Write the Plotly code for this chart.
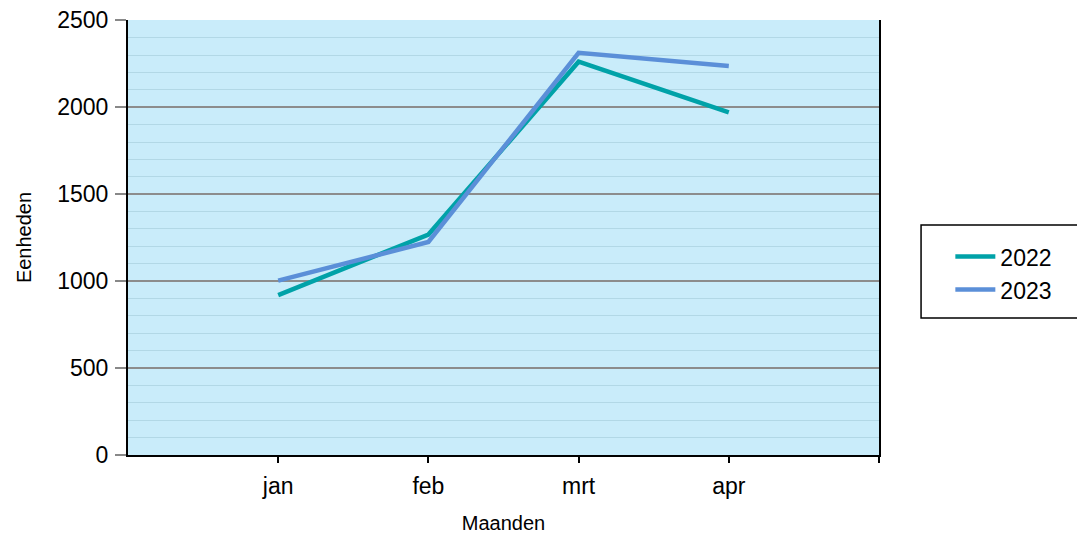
import plotly.graph_objects as go

months = ["jan", "feb", "mrt", "apr"]
series_2022 = [920, 1268, 2262, 1970]
series_2023 = [1003, 1225, 2313, 2238]
y_ticks = [0, 500, 1000, 1500, 2000, 2500]

x_idx = list(range(len(months)))

fig = go.Figure()
fig.add_trace(go.Scatter(x=x_idx, y=series_2022, mode="lines", name="2022",
                         line=dict(color="#00A2A8", width=4.5)))
fig.add_trace(go.Scatter(x=x_idx, y=series_2023, mode="lines", name="2023",
                         line=dict(color="#5B8FD8", width=4.5)))

font_family = "Arial, Liberation Sans, sans-serif"

fig.update_layout(
    width=1085, height=536,
    margin=dict(l=120, r=214, t=12, b=89, autoexpand=False),
    paper_bgcolor="white",
    plot_bgcolor="#C9ECFA",
    font=dict(family=font_family, color="black"),
    showlegend=True,
    legend=dict(x=1.095, y=0.418, xanchor="left", yanchor="middle",
                bgcolor="rgba(0,0,0,0)", borderwidth=0,
                font=dict(size=23, family=font_family), itemwidth=40,
                tracegroupgap=0),
    xaxis=dict(
        range=[-1, 4],
        tickvals=x_idx + [len(months)],
        ticktext=months + [""],
        ticks="outside", ticklen=6, tickcolor="black", tickwidth=1.5,
        ticklabelstandoff=3, ticklabeloverflow="allow",
        showgrid=False, zeroline=False, automargin=False,
        showline=True, linecolor="black", linewidth=2,
        tickfont=dict(size=23),
        title=dict(text="Maanden", font=dict(size=20), standoff=18),
    ),
    yaxis=dict(
        range=[0, 2502],
        tickvals=y_ticks,
        ticks="outside", ticklen=11, tickcolor="#888888", tickwidth=1.5,
        ticklabelstandoff=2, ticklabeloverflow="allow",
        showgrid=True, gridcolor="#8C8C8C", gridwidth=1.5,
        minor=dict(dtick=100, showgrid=True, gridcolor="#B2D8E6", gridwidth=1.2),
        zeroline=False, automargin=False,
        showline=True, linecolor="black", linewidth=2, mirror=True,
        tickfont=dict(size=23),
        title=dict(text="Eenheden", font=dict(size=20), standoff=20),
    ),
    shapes=[dict(type="rect", xref="paper", yref="paper",
                 x0=1.056, x1=1.4, y0=0.315, y1=0.529,
                 line=dict(color="black", width=1.5), fillcolor="rgba(0,0,0,0)")],
)

fig.write_html("out.html")
